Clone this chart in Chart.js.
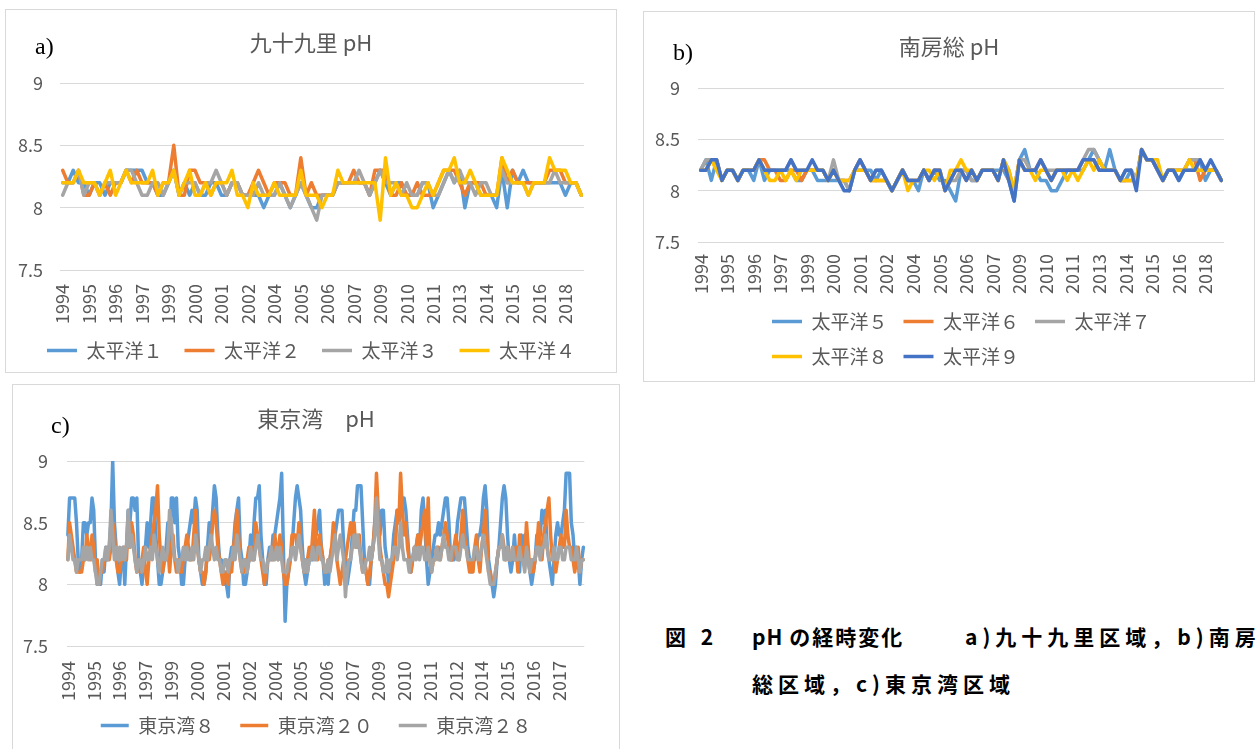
<!DOCTYPE html>
<html><head><meta charset="utf-8">
<script src="https://cdn.jsdelivr.net/npm/chart.js@4.4.1/dist/chart.umd.min.js"></script>
<style>
html,body{margin:0;padding:0;background:#fff;width:1258px;height:749px;overflow:hidden;position:relative}
.box{position:absolute}
.frame{position:absolute;border:1px solid #d9d9d9;box-sizing:border-box;pointer-events:none}
.tag{position:absolute;font-family:"Liberation Serif","DejaVu Serif",serif;font-size:24px;line-height:26px;color:#000}
.cap{position:absolute;font-family:"Noto Sans CJK JP",sans-serif;font-weight:700;font-size:21px;line-height:24px;letter-spacing:5px;white-space:nowrap;color:#000}
</style></head><body>
<div class="box" style="left:5px;top:9px;width:612px;height:364px"><canvas id="ca"></canvas></div>
<div class="frame" style="left:5px;top:9px;width:612px;height:364px"></div>
<div class="box" style="left:643px;top:11px;width:612px;height:371px"><canvas id="cb"></canvas></div>
<div class="frame" style="left:643px;top:11px;width:612px;height:371px"></div>
<div class="box" style="left:12px;top:384px;width:608px;height:365px"><canvas id="cc"></canvas></div>
<div class="frame" style="left:12px;top:384px;width:608px;height:370px"></div>
<div class="tag" style="left:35px;top:33px">a)</div>
<div class="tag" style="left:673px;top:39px">b)</div>
<div class="tag" style="left:51px;top:412px">c)</div>
<div class="cap" style="left:665px;top:624px">図 2</div>
<div class="cap" style="left:752px;top:624px"><span style="letter-spacing:1px">pH </span><span style="letter-spacing:2px">の経時変化</span></div>
<div class="cap" style="left:965px;top:624px">a)九十九里区域，b)南房総区域，</div>
<div class="cap" style="left:752px;top:671px">総区域，c)東京湾区域</div>
<script>
// ---------- data ----------
const yTicks = [7.5, 8, 8.5, 9];
// panels a/b: sampling years and number of samples per year
const abYears    = [1994,1995,1996,1997,1998,1999,2000,2001,2002,2003,2004,2005,2006,2007,2008,2009,2010,2011,2012,2013,2014,2015,2016,2017,2018];
const abPerYear  = [4,4,4,4,4,4,4,4,4,4,4,4,4,4,4,4,4,4,3,4,4,4,4,4,4];
// panel c: monthly
const cYears = [1994,1995,1996,1997,1998,1999,2000,2001,2002,2003,2004,2005,2006,2007,2008,2009,2010,2011,2012,2013,2014,2015,2016,2017,2018];
const cPerYear = 12;

const aNames = ['太平洋１','太平洋２','太平洋３','太平洋４'];
const pac1 = [8.2,8.2,8.3,8.2,8.2,8.1,8.2,8.2,8.1,8.2, 8.2,8.2,8.3,8.3,8.3,8.3,8.2,8.2,8.1,8.1, 8.2,8.3,8.1,8.2,8.1,8.2,8.1,8.1,8.2,8.2, 8.1,8.1,8.2,8.2,8.1,8.1,8.1,8.1,8.0,8.1, 8.1,8.2,8.1,8.0,8.1,8.2,8.1,8.0,8.0,8.1, 8.1,8.1,8.2,8.2,8.2,8.2,8.2,8.2,8.1,8.2, 8.3,8.2,8.1,8.2,8.2,8.1,8.1,8.1,8.2,8.2, 8.0,8.1,8.2,8.3,8.2,8.3,8.0,8.2,8.2,8.1, 8.1,8.1,8.0,8.3,8.0,8.3,8.2,8.3,8.2,8.2, 8.2,8.2,8.2,8.2,8.2,8.1,8.2,8.2,8.1];
const pac2 = [8.3,8.2,8.2,8.3,8.1,8.1,8.2,8.1,8.2,8.1, 8.2,8.2,8.3,8.2,8.3,8.2,8.2,8.2,8.1,8.2, 8.2,8.5,8.1,8.1,8.3,8.3,8.2,8.2,8.1,8.2, 8.2,8.1,8.2,8.2,8.1,8.1,8.2,8.3,8.2,8.1, 8.2,8.2,8.2,8.1,8.1,8.4,8.1,8.2,8.1,8.1, 8.1,8.1,8.2,8.2,8.2,8.3,8.2,8.2,8.1,8.3, 8.3,8.3,8.1,8.1,8.2,8.1,8.1,8.2,8.1,8.1, 8.1,8.2,8.3,8.3,8.3,8.2,8.1,8.2,8.2,8.2, 8.1,8.1,8.1,8.4,8.2,8.3,8.2,8.2,8.2,8.2, 8.2,8.2,8.3,8.3,8.3,8.2,8.2,8.2,8.1];
const pac3 = [8.1,8.2,8.2,8.3,8.1,8.2,8.2,8.1,8.2,8.2, 8.2,8.2,8.3,8.3,8.2,8.1,8.1,8.2,8.2,8.1, 8.2,8.3,8.1,8.2,8.2,8.2,8.1,8.2,8.2,8.3, 8.2,8.1,8.2,8.2,8.1,8.1,8.1,8.2,8.1,8.1, 8.1,8.2,8.1,8.0,8.1,8.2,8.1,8.0,7.9,8.1, 8.1,8.1,8.2,8.2,8.2,8.2,8.3,8.2,8.1,8.2, 8.3,8.2,8.2,8.2,8.1,8.2,8.1,8.1,8.2,8.2, 8.1,8.1,8.2,8.3,8.2,8.3,8.2,8.2,8.1,8.2, 8.2,8.1,8.1,8.3,8.2,8.2,8.2,8.2,8.1,8.2, 8.2,8.2,8.2,8.3,8.2,8.2,8.2,8.2,8.1];
const pac4 = [8.2,8.2,8.2,8.3,8.2,8.2,8.2,8.1,8.2,8.3, 8.1,8.2,8.3,8.2,8.2,8.2,8.2,8.3,8.1,8.2, 8.2,8.3,8.1,8.2,8.3,8.1,8.1,8.2,8.1,8.2, 8.2,8.2,8.3,8.1,8.1,8.0,8.2,8.1,8.1,8.1, 8.2,8.1,8.1,8.1,8.1,8.3,8.1,8.1,8.1,8.0, 8.1,8.1,8.3,8.2,8.2,8.2,8.2,8.2,8.2,8.2, 7.9,8.4,8.1,8.2,8.1,8.1,8.0,8.0,8.1,8.2, 8.1,8.2,8.3,8.3,8.4,8.2,8.2,8.3,8.2,8.1, 8.1,8.1,8.1,8.4,8.3,8.2,8.2,8.2,8.1,8.2, 8.2,8.2,8.4,8.3,8.3,8.3,8.2,8.2,8.1];

const bNames = ['太平洋５','太平洋６','太平洋７','太平洋８','太平洋９'];
const pac5 = [8.2,8.3,8.1,8.3,8.1,8.2,8.2,8.1,8.2,8.2, 8.1,8.3,8.1,8.2,8.2,8.2,8.2,8.2,8.1,8.1, 8.2,8.2,8.1,8.1,8.1,8.1,8.1,8.1,8.0,8.2, 8.2,8.2,8.2,8.1,8.2,8.1,8.0,8.1,8.2,8.1, 8.1,8.0,8.2,8.1,8.2,8.1,8.1,8.0,7.9,8.2, 8.2,8.1,8.1,8.2,8.2,8.2,8.2,8.2,8.1,7.9, 8.3,8.4,8.2,8.2,8.1,8.1,8.0,8.0,8.1,8.2, 8.2,8.2,8.2,8.3,8.4,8.3,8.2,8.4,8.2,8.1, 8.1,8.2,8.1,8.4,8.3,8.3,8.2,8.1,8.2,8.2, 8.1,8.2,8.2,8.2,8.3,8.1,8.2,8.2,8.1];
const pac6 = [8.2,8.2,8.3,8.3,8.1,8.2,8.2,8.1,8.2,8.2, 8.2,8.3,8.3,8.2,8.2,8.1,8.1,8.2,8.2,8.1, 8.2,8.2,8.2,8.2,8.1,8.2,8.1,8.1,8.1,8.2, 8.3,8.2,8.1,8.1,8.1,8.1,8.0,8.1,8.2,8.1, 8.1,8.1,8.2,8.1,8.2,8.2,8.0,8.1,8.2,8.2, 8.1,8.2,8.1,8.2,8.2,8.2,8.1,8.3,8.1,8.0, 8.3,8.2,8.2,8.2,8.3,8.2,8.1,8.2,8.2,8.2, 8.2,8.2,8.3,8.3,8.3,8.2,8.2,8.2,8.2,8.1, 8.1,8.1,8.1,8.4,8.3,8.3,8.2,8.1,8.2,8.2, 8.2,8.2,8.3,8.3,8.1,8.2,8.2,8.2,8.1];
const pac7 = [8.2,8.3,8.3,8.3,8.1,8.2,8.2,8.1,8.2,8.2, 8.2,8.3,8.2,8.2,8.2,8.2,8.2,8.3,8.2,8.2, 8.2,8.2,8.2,8.2,8.1,8.3,8.1,8.1,8.0,8.2, 8.3,8.2,8.1,8.2,8.2,8.1,8.0,8.1,8.2,8.1, 8.1,8.1,8.2,8.1,8.2,8.2,8.0,8.1,8.1,8.2, 8.2,8.1,8.1,8.2,8.2,8.2,8.1,8.3,8.2,8.0, 8.3,8.3,8.2,8.2,8.3,8.2,8.2,8.2,8.2,8.2, 8.2,8.2,8.3,8.4,8.4,8.3,8.2,8.2,8.2,8.1, 8.2,8.2,8.1,8.4,8.3,8.3,8.2,8.1,8.2,8.2, 8.2,8.2,8.3,8.3,8.3,8.2,8.2,8.2,8.1];
const pac8 = [8.2,8.2,8.3,8.2,8.1,8.2,8.2,8.1,8.2,8.2, 8.2,8.3,8.2,8.1,8.1,8.2,8.1,8.2,8.1,8.2, 8.2,8.2,8.2,8.2,8.1,8.2,8.1,8.1,8.1,8.2, 8.2,8.2,8.1,8.1,8.1,8.1,8.0,8.1,8.2,8.0, 8.1,8.1,8.2,8.2,8.1,8.2,8.0,8.2,8.2,8.3, 8.2,8.2,8.1,8.2,8.2,8.2,8.1,8.3,8.2,8.0, 8.3,8.2,8.2,8.1,8.2,8.2,8.1,8.2,8.2,8.1, 8.2,8.1,8.2,8.3,8.2,8.3,8.2,8.2,8.2,8.1, 8.1,8.1,8.1,8.4,8.3,8.3,8.3,8.1,8.2,8.2, 8.2,8.2,8.3,8.2,8.2,8.2,8.2,8.2,8.1];
const pac9 = [8.2,8.2,8.3,8.3,8.1,8.2,8.2,8.1,8.2,8.2, 8.2,8.3,8.2,8.2,8.2,8.2,8.2,8.3,8.2,8.2, 8.2,8.3,8.2,8.2,8.1,8.2,8.1,8.0,8.0,8.2, 8.3,8.2,8.1,8.2,8.2,8.1,8.0,8.1,8.2,8.1, 8.1,8.1,8.2,8.1,8.2,8.2,8.0,8.1,8.2,8.2, 8.1,8.2,8.1,8.2,8.2,8.2,8.1,8.3,8.1,7.9, 8.3,8.2,8.2,8.2,8.3,8.2,8.1,8.2,8.2,8.2, 8.2,8.2,8.3,8.3,8.3,8.2,8.2,8.2,8.2,8.1, 8.2,8.2,8.0,8.4,8.3,8.3,8.2,8.1,8.2,8.2, 8.1,8.2,8.2,8.2,8.3,8.2,8.3,8.2,8.1];

const cNames = ['東京湾８','東京湾２０','東京湾２８'];
const tb8 = [
 8.4,8.7,8.7,8.7,8.7,8.5,8.2,8.1,8.2,8.5,8.5,8.4,
 8.5,8.5,8.7,8.6,8.2,8.0,8.0,8.0,8.2,8.1,8.3,8.2,
 8.3,8.5,9.0,8.5,8.3,8.1,8.0,8.2,8.3,8.0,8.3,8.6,
 8.5,8.7,8.7,8.6,8.7,8.2,8.1,8.0,8.2,8.3,8.5,8.3,
 8.5,8.7,8.7,8.4,8.2,8.0,8.0,8.1,8.2,8.3,8.5,8.2,
 8.7,8.7,8.5,8.7,8.3,8.2,8.0,8.0,8.2,8.3,8.4,8.5,
 8.6,8.5,8.7,8.6,8.2,8.1,8.0,8.0,8.1,8.3,8.5,8.4,
 8.6,8.8,8.7,8.4,8.2,8.2,8.1,8.0,8.0,7.9,8.2,8.3,
 8.3,8.5,8.6,8.7,8.3,8.2,8.0,8.0,8.1,8.2,8.4,8.2,
 8.5,8.7,8.7,8.8,8.4,8.2,8.0,8.0,8.2,8.3,8.2,8.4,
 8.4,8.5,8.6,8.7,8.9,8.3,7.7,8.0,8.1,8.2,8.3,8.5,
 8.7,8.8,8.7,8.6,8.3,8.1,8.0,8.1,8.2,8.3,8.2,8.5,
 8.4,8.5,8.6,8.3,8.2,8.0,8.1,8.0,8.2,8.3,8.3,8.4,
 8.5,8.6,8.6,8.6,8.3,8.2,8.0,8.1,8.2,8.4,8.6,8.6,
 8.8,8.8,8.8,8.5,8.2,8.1,8.0,8.0,8.2,8.3,8.5,8.6,
 8.5,8.4,8.6,8.6,8.3,8.2,8.0,8.1,8.2,8.4,8.5,8.6,
 8.5,8.6,8.7,8.7,8.6,8.4,8.2,8.1,8.2,8.3,8.3,8.4,
 8.3,8.6,8.7,8.5,8.2,8.0,8.1,8.2,8.3,8.4,8.4,8.5,
 8.4,8.5,8.6,8.7,8.7,8.5,8.2,8.2,8.2,8.3,8.5,8.6,
 8.7,8.7,8.7,8.5,8.3,8.2,8.1,8.2,8.2,8.3,8.4,8.4,
 8.5,8.7,8.8,8.6,8.2,8.1,8.0,7.9,8.0,8.2,8.3,8.5,
 8.7,8.8,8.7,8.4,8.2,8.1,8.2,8.4,8.2,8.3,8.1,8.4,
 8.3,8.4,8.3,8.2,8.1,8.0,8.1,8.2,8.4,8.3,8.4,8.6,
 8.5,8.6,8.3,8.2,8.1,8.0,8.2,8.4,8.5,8.4,8.4,8.5,
 8.6,8.9,8.9,8.9,8.5,8.4,8.2,8.3,8.2,8.0,8.2,8.3];
const tb20 = [
 8.2,8.5,8.4,8.3,8.2,8.1,8.1,8.1,8.1,8.2,8.2,8.4,
 8.3,8.2,8.4,8.3,8.1,8.2,8.0,8.1,8.1,8.2,8.2,8.3,
 8.2,8.3,8.5,8.4,8.2,8.1,8.1,8.2,8.2,8.3,8.2,8.5,
 8.3,8.5,8.4,8.2,8.1,8.2,8.1,8.2,8.3,8.1,8.0,8.2,
 8.3,8.4,8.5,8.6,8.8,8.4,8.2,8.1,8.2,8.2,8.3,8.1,
 8.3,8.4,8.2,8.1,8.2,8.1,8.1,8.2,8.3,8.4,8.3,8.2,
 8.2,8.4,8.6,8.3,8.2,8.1,8.1,8.0,8.1,8.3,8.2,8.3,
 8.5,8.6,8.5,8.3,8.2,8.1,8.0,8.1,8.1,8.0,8.2,8.1,
 8.3,8.4,8.6,8.4,8.2,8.1,8.1,8.2,8.2,8.3,8.2,8.3,
 8.2,8.5,8.4,8.3,8.2,8.1,8.0,8.1,8.2,8.2,8.3,8.2,
 8.4,8.3,8.2,8.4,8.3,8.1,8.0,8.0,8.1,8.2,8.4,8.4,
 8.4,8.3,8.5,8.3,8.2,8.1,8.1,8.2,8.3,8.2,8.4,8.6,
 8.3,8.2,8.4,8.3,8.2,8.1,8.1,8.2,8.2,8.3,8.5,8.4,
 8.2,8.1,8.0,8.1,8.2,8.2,8.3,8.4,8.5,8.4,8.5,8.3,
 8.3,8.4,8.2,8.1,8.2,8.1,8.0,8.1,8.2,8.3,8.5,8.9,
 8.6,8.3,8.2,8.1,8.0,8.0,7.9,8.0,8.1,8.2,8.3,8.6,
 8.5,8.9,8.6,8.4,8.5,8.3,8.2,8.1,8.2,8.3,8.3,8.4,
 8.3,8.4,8.5,8.6,8.3,8.7,8.2,8.1,8.2,8.2,8.3,8.3,
 8.2,8.3,8.4,8.5,8.4,8.3,8.2,8.2,8.3,8.4,8.3,8.2,
 8.4,8.6,8.4,8.3,8.2,8.1,8.2,8.1,8.3,8.4,8.2,8.1,
 8.3,8.4,8.6,8.4,8.1,8.1,8.0,8.0,8.1,8.2,8.3,8.3,
 8.4,8.3,8.2,8.3,8.2,8.2,8.3,8.2,8.3,8.1,8.4,8.2,
 8.3,8.2,8.5,8.3,8.1,8.2,8.1,8.2,8.3,8.5,8.3,8.2,
 8.4,8.5,8.6,8.7,8.4,8.2,8.2,8.1,8.2,8.3,8.4,8.3,
 8.3,8.6,8.4,8.3,8.3,8.2,8.1,8.2,8.3,8.1,8.2,8.2];
const tb28 = [
 8.2,8.4,8.3,8.2,8.2,8.1,8.2,8.2,8.2,8.3,8.2,8.3,
 8.2,8.3,8.2,8.2,8.1,8.0,8.0,8.1,8.2,8.2,8.3,8.2,
 8.3,8.6,8.4,8.2,8.3,8.2,8.3,8.2,8.3,8.2,8.3,8.6,
 8.3,8.4,8.3,8.2,8.1,8.2,8.2,8.1,8.2,8.3,8.2,8.2,
 8.3,8.2,8.4,8.3,8.2,8.1,8.2,8.3,8.2,8.2,8.3,8.6,
 8.5,8.3,8.2,8.2,8.1,8.2,8.2,8.3,8.2,8.3,8.2,8.2,
 8.3,8.2,8.4,8.3,8.2,8.1,8.2,8.2,8.3,8.2,8.3,8.4,
 8.3,8.2,8.3,8.2,8.2,8.1,8.1,8.2,8.2,8.1,8.2,8.2,
 8.3,8.2,8.4,8.3,8.2,8.1,8.2,8.2,8.1,8.2,8.3,8.2,
 8.2,8.3,8.4,8.3,8.2,8.2,8.1,8.1,8.2,8.2,8.3,8.2,
 8.2,8.3,8.2,8.3,8.2,8.1,8.1,8.1,8.2,8.2,8.3,8.3,
 8.2,8.3,8.4,8.3,8.2,8.1,8.2,8.1,8.2,8.2,8.3,8.2,
 8.2,8.3,8.3,8.2,8.2,8.1,8.1,8.2,8.1,8.2,8.3,8.4,
 8.2,8.3,8.4,8.3,8.2,7.9,8.1,8.2,8.2,8.3,8.4,8.3,
 8.4,8.3,8.2,8.1,8.1,8.2,8.2,8.3,8.2,8.3,8.4,8.7,
 8.4,8.2,8.2,8.1,8.1,8.2,8.1,8.2,8.2,8.3,8.3,8.2,
 8.3,8.5,8.3,8.2,8.2,8.2,8.1,8.2,8.2,8.3,8.2,8.3,
 8.2,8.3,8.3,8.2,8.2,8.3,8.2,8.1,8.2,8.2,8.3,8.2,
 8.2,8.3,8.4,8.3,8.3,8.2,8.2,8.3,8.3,8.3,8.2,8.2,
 8.3,8.4,8.3,8.3,8.2,8.2,8.2,8.2,8.3,8.3,8.2,8.2,
 8.3,8.4,8.3,8.2,8.1,8.0,8.0,8.0,8.1,8.2,8.3,8.3,
 8.4,8.2,8.2,8.3,8.2,8.2,8.3,8.2,8.2,8.2,8.3,8.2,
 8.2,8.1,8.3,8.2,8.1,8.2,8.2,8.2,8.3,8.3,8.2,8.3,
 8.3,8.4,8.3,8.2,8.2,8.2,8.3,8.2,8.2,8.3,8.3,8.2,
 8.2,8.3,8.3,8.3,8.2,8.2,8.2,8.3,8.2,8.1,8.2,8.2];

const BLUE='#5B9BD5', ORANGE='#ED7D31', GRAY='#A5A5A5', YELLOW='#FFC000', DBLUE='#4472C4';
const FONT = '"Noto Sans CJK JP","Noto Sans",sans-serif';

// ---------- category labels built from the year lists ----------
const abCats = [];
abYears.forEach((y, k) => { for (let j = 0; j < abPerYear[k]; j++) abCats.push(String(y)); });
const cCats = [];
cYears.forEach(y => { for (let j = 0; j < cPerYear; j++) cCats.push(String(y)); });

// keeps rotated x labels from being clipped and (optionally) left-aligns legend rows
const layoutTweak = {
  id: 'layoutTweak',
  afterLayout(chart, args, opts) {
    if (chart.scales.x) chart.scales.x.bottom = chart.height;
    if (opts && opts.left != null && chart.legend) {
      chart.legend.left = opts.left;
      chart.legend.right = opts.right;
    }
  }
};

function makeChart(id, cats, names, values, colors, cfg) {
  const n = names.length;
  return new Chart(document.getElementById(id), {
    type: 'line',
    data: {
      labels: cats,
      datasets: names.map((nm, i) => ({
        label: nm, data: values[i], borderColor: colors[i], backgroundColor: colors[i],
        borderWidth: 3.5, pointRadius: 0, pointHoverRadius: 0, tension: 0,
        borderJoinStyle: 'round', borderCapStyle: 'round', order: n - i
      }))
    },
    plugins: [layoutTweak],
    options: {
      responsive: true, maintainAspectRatio: false, animation: false, devicePixelRatio: 1,
      events: [],
      layout: { padding: { left: 0, right: 0, top: 0, bottom: cfg.padBottom } },
      scales: {
        x: {
          type: 'category', offset: true,
          grid: { display: false, drawTicks: false }, border: { display: false },
          ticks: {
            autoSkip: false, maxRotation: 90, minRotation: 90, padding: cfg.xPad,
            color: '#595959', font: { family: FONT, size: 18 },
            callback: (v, i) => (i % cfg.every === 0 ? cats[i] : '')
          },
          afterFit: s => { s.height = cfg.xH; }
        },
        y: {
          min: 7.5, max: 9,
          afterBuildTicks: s => { s.ticks = yTicks.map(v => ({ value: v })); },
          grid: { color: '#d9d9d9', lineWidth: 1, drawTicks: false }, border: { display: false },
          ticks: { padding: cfg.yPad, color: '#595959', font: { family: FONT, size: 18 }, callback: v => String(v) },
          afterFit: s => { s.width = 55; }
        },
        yr: {
          position: 'right', display: true,
          grid: { display: false, drawTicks: false }, border: { display: false },
          ticks: { display: false },
          afterFit: s => { s.width = cfg.padRight; }
        }
      },
      plugins: {
        title: {
          display: true, text: cfg.title, color: '#595959',
          font: { family: FONT, size: 22, weight: 'normal' },
          padding: { top: cfg.tTop, bottom: cfg.tBottom }
        },
        legend: {
          position: 'bottom', align: cfg.align || 'center',
          labels: {
            usePointStyle: true, pointStyle: 'line', pointStyleWidth: cfg.sample,
            color: '#595959', font: { family: FONT, size: 19 }, padding: cfg.lPad,
            sort: (a, b) => a.datasetIndex - b.datasetIndex
          }
        },
        tooltip: { enabled: false },
        layoutTweak: cfg.shift || {}
      }
    }
  });
}

makeChart('ca', abCats, aNames, [pac1, pac2, pac3, pac4], [BLUE, ORANGE, GRAY, YELLOW], {
  title: '九十九里 pH', tTop: 20.8, tBottom: 26.8, xH: 49, xPad: 14, yPad: 17, padRight: 15,
  padBottom: 3, lPad: 22, sample: 30, every: 5
});
makeChart('cb', abCats, bNames, [pac5, pac6, pac7, pac8, pac9], [BLUE, ORANGE, GRAY, YELLOW, DBLUE], {
  title: '南房総 pH', tTop: 22.8, tBottom: 27.8, xH: 54, xPad: 12, yPad: 18, padRight: 18,
  padBottom: 6, lPad: 16, sample: 30, every: 5, align: 'start', shift: { left: 113, right: 600 }
});
makeChart('cc', cCats, cNames, [tb8, tb20, tb28], [BLUE, ORANGE, GRAY], {
  title: '東京湾　pH', tTop: 21.8, tBottom: 28.8, xH: 44, xPad: 15, yPad: 19, padRight: 16,
  padBottom: 4, lPad: 26, sample: 28, every: 15
});
</script>
</body></html>
